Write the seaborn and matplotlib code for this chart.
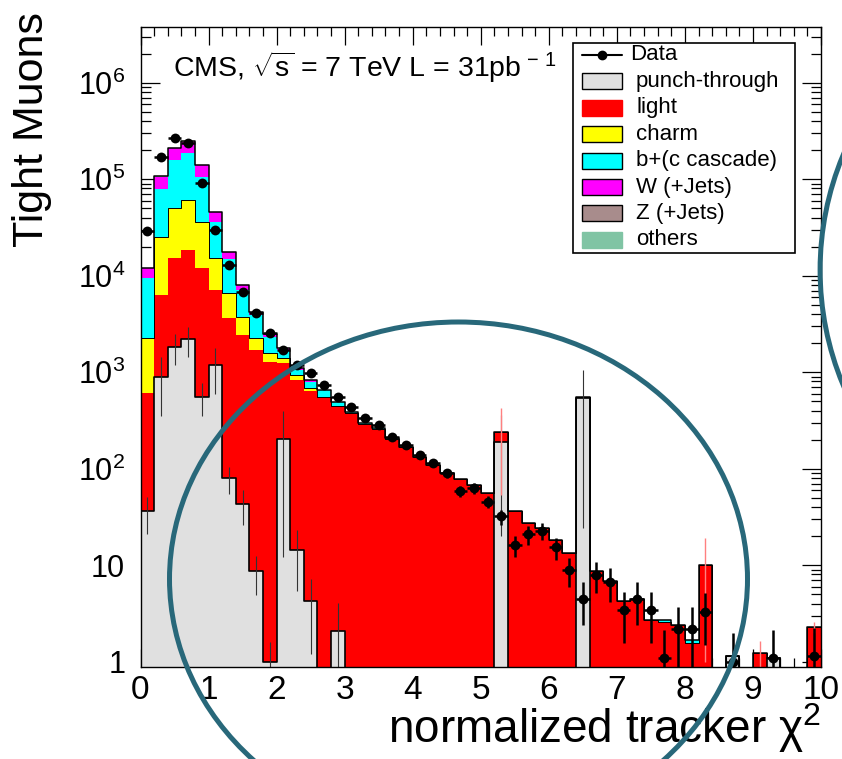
import numpy as np
import pandas as pd
import matplotlib
matplotlib.use("Agg")
import matplotlib.pyplot as plt
import seaborn as sns
from matplotlib.patches import Ellipse, Rectangle
from matplotlib.lines import Line2D
from matplotlib.ticker import FixedLocator, FixedFormatter, MultipleLocator, LogLocator, NullFormatter

# ---------------- data ----------------
bin_edges = [round(v, 2) for v in np.linspace(0.0, 10.0, 51)]

punch_through = [36, 898, 1840, 2190, 557, 1188, 80, 43, 8.6, 1.0,
                 202, 14.4, 4.2, 0, 2.1, 0, 0, 0, 0, 0,
                 0, 0, 0, 0, 0, 0, 190, 0, 0, 0,
                 0, 0, 544, 0, 0, 0, 0, 0, 0, 0,
                 0, 0, 0, 1.15, 0, 0, 1.1, 0, 0, 0]
light = [574, 5400, 13260, 16300, 11340, 5920, 3540, 2390, 1690, 1283,
         1035, 816, 639, 550, 442, 380, 290, 258, 205, 168,
         133, 109, 89.5, 78, 68, 56, 48, 36.7, 27.6, 24.1,
         18.2, 13.3, 11, 8.6, 6.9, 4.2, 4.5, 2.7, 2.55, 2.4,
         1.55, 10, 0, 0, 0, 1.22, 0, 0, 0, 2.3]
charm = [1650, 18700, 34800, 42400, 24400, 7990, 3040, 1260, 550, 286,
         156, 105, 38, 7, 3, 0, 0, 0, 0, 0,
         0, 0, 0, 0, 0, 0, 0, 0, 0, 0,
         0, 0, 0, 0, 0, 0, 0, 0, 0, 0,
         0, 0, 0, 0, 0, 0, 0, 0, 0, 0]
b_cascade = [7200, 53600, 108100, 124100, 69700, 21200, 8140, 3420, 1670, 760,
             307, 119, 116, 98, 49, 10, 5, 4, 2, 1,
             0, 0, 0, 0, 0, 0, 0, 0, 0, 0,
             0, 0, 0, 0, 0, 0.1, 0, 0, 0.15, 0,
             0.12, 0, 0, 0, 0, 0, 0, 0, 0, 0]
w_jets = [2540, 27400, 51000, 60000, 34000, 9700, 2900, 900, 320, 150,
          80, 60, 30, 0, 0, 0, 0, 0, 0, 0,
          0, 0, 0, 0, 0, 0, 0, 0, 0, 0,
          0, 0, 0, 0, 0, 0, 0, 0, 0, 0,
          0, 0, 0, 0, 0, 0, 0, 0, 0, 0]
z_jets = [40, 350, 600, 700, 400, 120, 40, 12, 5, 2,
          1, 0, 0, 0, 0, 0, 0, 0, 0, 0,
          0, 0, 0, 0, 0, 0, 0, 0, 0, 0,
          0, 0, 0, 0, 0, 0, 0, 0, 0, 0,
          0, 0, 0, 0, 0, 0, 0, 0, 0, 0]
others = [20, 150, 250, 300, 180, 60, 20, 6, 2, 1,
          0, 0, 0, 0, 0, 0, 0, 0, 0, 0,
          0, 0, 0, 0, 0, 0, 0, 0, 0, 0,
          0, 0, 0, 0, 0, 0, 0, 0, 0, 0,
          0, 0, 0, 0, 0, 0, 0, 0, 0, 0]
data = [29000, 169000, 265000, 239000, 92000, 29800, 12900, 6730, 4080, 2530,
        1700, 1190, 975, 737, 557, 439, 333, 284, 215, 176,
        139, 114, 90, 58, 63, 45.5, 32, 16.2, 20.9, 22.8,
        15.3, 8.9, 4.5, 7.9, 6.7, 3.4, 4.5, 3.4, 1.1, 2.2,
        2.2, 3.3, 0, 1.0, 0, 0, 1.1, 0, 0, 1.15]
punch_through_err = [15, 550, 650, 750, 210, 600, 25, 17, 3.7, 0.6,
                     190, 9, 3, 0, 2, 0, 0, 0, 0, 0,
                     0, 0, 0, 0, 0, 0, 170, 0, 0, 0,
                     0, 0, 520, 0, 0, 0, 0, 0, 0, 0,
                     0, 0, 0, 0.6, 0, 0, 0.6, 0, 0, 0]
light_err = [0, 0, 0, 0, 0, 0, 0, 0, 0, 0,
             0, 0, 0, 0, 0, 0, 0, 0, 0, 0,
             0, 0, 0, 0, 0, 0, 185, 0, 0, 0,
             0, 0, 0, 0, 0, 0, 0, 0, 0, 0,
             0, 9, 0, 0, 0, 0.4, 0, 0, 0, 0.3]

component_names = ["punch-through", "light", "charm", "b+(c cascade)",
                   "W (+Jets)", "Z (+Jets)", "others"]
component_colors = ["#e0e0e0", "#ff0000", "#ffff00", "#00ffff",
                    "#ff00ff", "#a88c8c", "#80c4a4"]
legend_edge = ["black", "#ff0000", "black", "black", "black", "black", "#80c4a4"]

xtick_values = [0, 1, 2, 3, 4, 5, 6, 7, 8, 9, 10]
xtick_labels = ["0", "1", "2", "3", "4", "5", "6", "7", "8", "9", "10"]
ytick_values = [1, 10, 1e2, 1e3, 1e4, 1e5, 1e6]
ytick_labels = ["1", "10", "$10^{2}$", "$10^{3}$", "$10^{4}$", "$10^{5}$", "$10^{6}$"]

cms_text = r"CMS, $\sqrt{s}$ = 7 TeV L = 31pb$^{\,-\,1}$"
xlabel = "normalized tracker \u03c7$^{2}$"
ylabel = "Tight Muons"

# ---------------- style ----------------
sns.set_style("ticks")
plt.rcParams["font.family"] = ["Liberation Sans", "DejaVu Sans"]
plt.rcParams["mathtext.fontset"] = "custom"
plt.rcParams["mathtext.rm"] = "Liberation Sans"
plt.rcParams["mathtext.it"] = "Liberation Sans:italic"
plt.rcParams["mathtext.bf"] = "Liberation Sans:bold"
plt.rcParams["mathtext.default"] = "regular"
for key in ["text.color", "axes.labelcolor", "xtick.color", "ytick.color", "axes.edgecolor"]:
    plt.rcParams[key] = "black"

W, H = 842, 759
def fx(px):
    return px / W
def fy(py):
    return 1 - py / H

fig = plt.figure(figsize=(W / 100, H / 100), dpi=100)
fig.patch.set_facecolor("white")
ax = fig.add_axes([fx(140.5), fy(667), (821 - 140.5) / W, (667 - 27) / H])
ax.set_yscale("log")

edges = np.array(bin_edges)
centers = 0.5 * (edges[:-1] + edges[1:])
half_width = 0.5 * np.diff(edges)
comps = np.array([punch_through, light, charm, b_cascade, w_jets, z_jets, others], float)
cum = np.cumsum(comps, axis=0)
layers = pd.DataFrame({"x": centers})
for k, name in enumerate(component_names):
    layers["cum_" + name] = cum[k]
layers["data"] = np.array(data, float)

# stacked histogram, drawn from the top layer downward (like THStack)
for k in range(len(comps) - 1, -1, -1):
    sns.histplot(data=layers, x="x", weights="cum_" + component_names[k], bins=bin_edges,
                 element="step", fill=True, color=component_colors[k], alpha=1,
                 linewidth=0, ax=ax, zorder=2)

# outlines
for name, lw in [("charm", 0.7), ("others", 1.1), ("punch-through", 1.2)]:
    sns.histplot(data=layers, x="x", weights="cum_" + name, bins=bin_edges,
                 element="step", fill=False, color="black", linewidth=lw, ax=ax, zorder=3)

# MC statistical errors
pe = np.array(punch_through_err, float)
m = pe > 0
ax.vlines(centers[m], np.clip(cum[0][m] - pe[m], 1e-3, None), cum[0][m] + pe[m],
          color="#333333", lw=0.8, zorder=4)
le = np.array(light_err, float)
m = le > 0
ax.vlines(centers[m], np.clip(cum[1][m] - le[m], 1e-3, None), cum[1][m] + le[m],
          color="#ff8080", lw=1.0, zorder=4)

# data points
sel = layers["data"].values > 0
pts = layers[sel]
ax.errorbar(pts["x"], pts["data"], yerr=np.sqrt(pts["data"]),
            xerr=half_width[sel], fmt="none",
            ecolor="black", elinewidth=1.8, capsize=0, zorder=5)
sns.scatterplot(data=pts, x="x", y="data", color="black", s=50, linewidth=0,
                ax=ax, zorder=6, legend=False)

# axes
ax.set_xlim(0, 10)
ax.set_ylim(0.88, 3.77e6)
ax.set_xlabel("")
ax.set_ylabel("")
ax.xaxis.set_major_locator(FixedLocator(xtick_values))
ax.xaxis.set_major_formatter(FixedFormatter(xtick_labels))
ax.xaxis.set_minor_locator(MultipleLocator(0.2))
ax.yaxis.set_major_locator(FixedLocator(ytick_values))
ax.yaxis.set_major_formatter(FixedFormatter(ytick_labels))
ax.yaxis.set_minor_locator(LogLocator(base=10, subs=np.arange(2, 10)))
ax.yaxis.set_minor_formatter(NullFormatter())
ax.tick_params(which="both", direction="in", top=True, right=True, color="black",
               labelcolor="black")
ax.tick_params(axis="x", which="major", length=13, width=0.9, labelsize=24, pad=6)
ax.tick_params(axis="x", which="minor", length=6.5, width=0.9)
ax.tick_params(axis="y", which="major", length=14, width=0.9, labelsize=22, pad=11)
ax.tick_params(axis="y", which="minor", length=7, width=0.9)
for s in ax.spines.values():
    s.set_visible(True)
    s.set_linewidth(1.0)
    s.set_color("black")
    s.set_zorder(7)

# texts
fig.text(fx(821), fy(743), xlabel, ha="right", va="baseline", fontsize=33)
fig.text(fx(32), fy(12), ylabel, ha="center", va="top", rotation=90, fontsize=31)
fig.text(fx(173), fy(77), cms_text, ha="left", va="baseline", fontsize=20.5)

# legend (drawn box by box, ROOT style)
fig.add_artist(Rectangle((fx(572.7), fy(252.7)), 222.3 / W, 210 / H,
                         transform=fig.transFigure, facecolor="white",
                         edgecolor="black", lw=1.2, zorder=8))
row0, step = 55.0, 26.4
fig.add_artist(Line2D([fx(581.7), fx(621.7)], [fy(row0), fy(row0)],
                      transform=fig.transFigure, color="black", lw=1.5, zorder=9))
fig.add_artist(Line2D([fx(601.7)], [fy(row0)], transform=fig.transFigure,
                      color="black", marker="o", ms=6, zorder=9))
fig.text(fx(630), fy(row0), "Data", ha="left", va="center", fontsize=16, zorder=9)
for i, (name, col, ec) in enumerate(zip(component_names, component_colors, legend_edge)):
    yc = row0 + step * (i + 1)
    fig.add_artist(Rectangle((fx(581.7), fy(yc + 8)), 40 / W, 16 / H,
                             transform=fig.transFigure, facecolor=col,
                             edgecolor=ec, lw=1.0, zorder=9))
    fig.text(fx(636), fy(yc), name, ha="left", va="center", fontsize=16, zorder=9)

# hand-drawn annotation circles
fig.add_artist(Ellipse((fx(458.5), fy(579)), 578 / W, 514 / H, transform=fig.transFigure,
                       fill=False, edgecolor="#28687a", lw=3.6, zorder=10))
fig.add_artist(Ellipse((fx(1118.6), fy(270)), 597 / W, 597 / H, transform=fig.transFigure,
                       fill=False, edgecolor="#28687a", lw=3.6, zorder=10))

fig.savefig("out.png", dpi=100)
